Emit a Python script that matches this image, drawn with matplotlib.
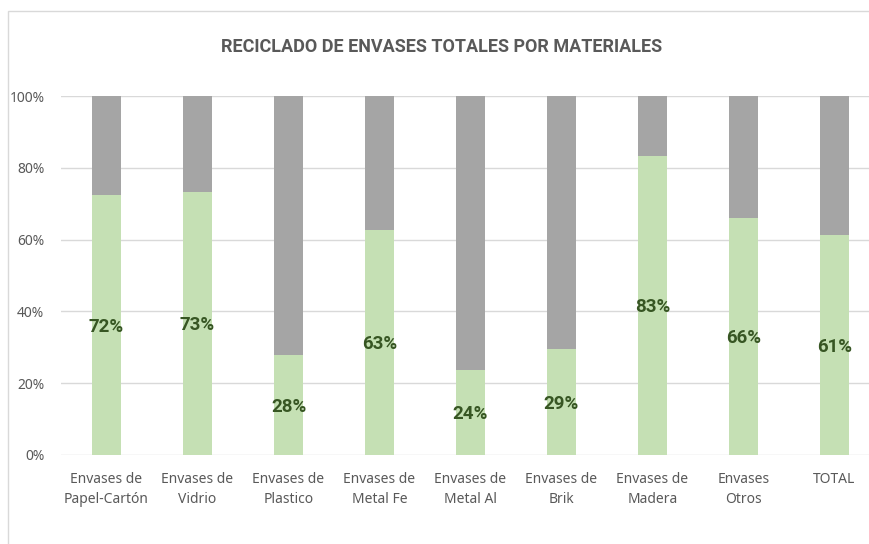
import numpy as np
import matplotlib.pyplot as plt
from matplotlib.patches import Rectangle

plt.rcParams['font.family'] = ['Noto Sans', 'DejaVu Sans']
negrita = ['Roboto', 'DejaVu Sans']

categorias = ["Envases de\nPapel-Cartón", "Envases de\nVidrio", "Envases de\nPlastico",
              "Envases de\nMetal Fe", "Envases de\nMetal Al", "Envases de\nBrik",
              "Envases de\nMadera", "Envases\nOtros", "TOTAL"]
reciclado = [72.4, 73.3, 27.9, 62.7, 23.7, 29.5, 83.3, 66.0, 61.3]
etiquetas = ["72%", "73%", "28%", "63%", "24%", "29%", "83%", "66%", "61%"]

verde = "#C5E0B4"
gris = "#A5A5A5"
texto = "#595959"

fig = plt.figure(figsize=(8.69, 5.44), dpi=100)
ax = fig.add_axes([61/869, 1-455/544, 819/869, 359/544])

x = np.arange(len(categorias))
resto = [100 - v for v in reciclado]
ax.bar(x, reciclado, width=0.32, color=verde, zorder=2)
ax.bar(x, resto, width=0.32, bottom=reciclado, color=gris, zorder=2)

for xi, v, lab in zip(x, reciclado, etiquetas):
    ax.text(xi, v/2 - 0.5, lab, ha='center', va='center', fontsize=13.5, fontweight='bold',
            family=negrita, color="#375623", zorder=3)

ax.set_xlim(-0.5, len(categorias) - 0.5)
ax.set_ylim(0, 100)
ax.set_yticks([0, 20, 40, 60, 80, 100])
ax.set_yticklabels([f"{t}%" for t in [0, 20, 40, 60, 80, 100]])
ax.set_xticks(x)
ax.set_xticklabels(categorias, linespacing=1.45)
ax.tick_params(axis='both', length=0, labelsize=10, colors=texto)
ax.tick_params(axis='y', pad=12)
ax.tick_params(axis='x', pad=12)
ax.grid(axis='y', color="#D9D9D9", linewidth=1, zorder=0)
for s in ax.spines.values():
    s.set_visible(False)

fig.text(442/869, 1-47/544, "RECICLADO DE ENVASES TOTALES POR MATERIALES", ha='center',
         va='center', fontsize=13, fontweight='bold', family=negrita, color=texto)

fig.patches.append(Rectangle((8/869, -0.1), 1.2, 1.1 - 11/544, transform=fig.transFigure,
                             fill=False, edgecolor="#D9D9D9", linewidth=1))

fig.savefig("out.png", dpi=100)
